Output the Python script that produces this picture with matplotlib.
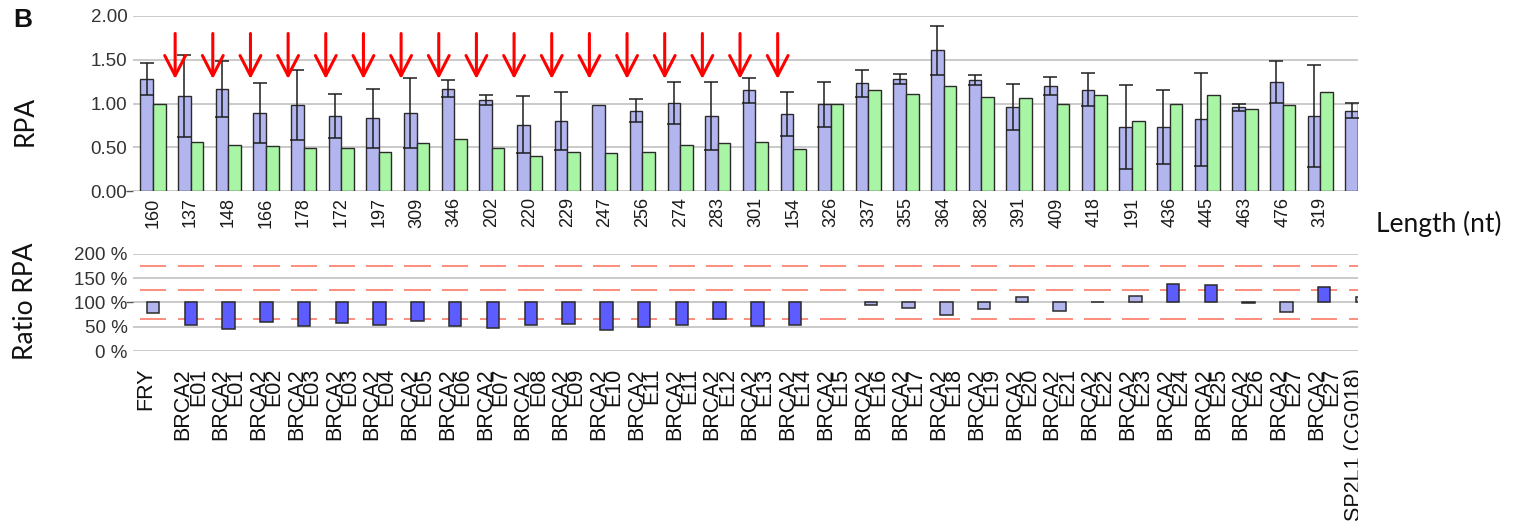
import matplotlib
matplotlib.use("Agg")
import numpy as np
import matplotlib.pyplot as plt
from matplotlib.patches import Rectangle
from matplotlib.transforms import blended_transform_factory

plt.rcParams["font.family"] = ["Liberation Sans", "DejaVu Sans"]

# ---- data -----------------------------------------------------------------
lengths = ["160", "137", "148", "166", "178", "172", "197", "309", "346", "202",
           "220", "229", "247", "256", "274", "283", "301", "154", "326", "337",
           "355", "364", "382", "391", "409", "418", "191", "436", "445", "463",
           "476", "319", ""]
genes = ["FRY"] + ["BRCA2"] * 31 + ["SP2L1 (CG018)"]
exons = ["", "E01", "E01", "E02", "E03", "E03", "E04", "E05", "E06", "E07",
         "E08", "E09", "E10", "E11", "E11", "E12", "E13", "E14", "E15", "E16",
         "E17", "E18", "E19", "E20", "E21", "E22", "E23", "E24", "E25", "E26",
         "E27", "E27", ""]

# mean RPA of the reference samples (blue) with its spread
reference_rpa = [1.28, 1.09, 1.17, 0.89, 0.98, 0.86, 0.83, 0.89, 1.17, 1.04,
                 0.76, 0.80, 0.98, 0.92, 1.01, 0.86, 1.15, 0.88, 0.99, 1.23,
                 1.28, 1.61, 1.27, 0.96, 1.20, 1.16, 0.73, 0.73, 0.82, 0.96,
                 1.25, 0.86, 0.92]
reference_err = [0.18, 0.47, 0.32, 0.34, 0.40, 0.25, 0.34, 0.40, 0.10, 0.06,
                 0.33, 0.33, np.nan, 0.13, 0.24, 0.39, 0.14, 0.25, 0.26, 0.15,
                 0.06, 0.28, 0.06, 0.26, 0.10, 0.19, 0.48, 0.42, 0.53, 0.04,
                 0.24, 0.58, 0.09]
# RPA of the tested sample (green)
sample_rpa = [1.00, 0.56, 0.53, 0.52, 0.49, 0.49, 0.45, 0.55, 0.59, 0.49,
              0.40, 0.45, 0.43, 0.45, 0.53, 0.55, 0.56, 0.48, 0.99, 1.16,
              1.11, 1.20, 1.07, 1.06, 1.00, 1.10, 0.80, 0.99, 1.10, 0.94,
              0.98, 1.13, 1.00]

# sample / reference ratio in percent, and whether it is flagged
ratio_pct = [78, 54, 46, 60, 52, 57, 54, 62, 52, 48,
             54, 56, 43, 49, 54, 65, 52, 54, np.nan, 94,
             88, 75, 86, 110, 83, 101, 113, 138, 135, 99,
             80, 131, 110]
flagged = [False] + [True] * 17 + [False] * 9 + [True, True, False, False, True, False]

thresholds = [65, 125, 175]

# ---- styling ----------------------------------------------------------------
LIGHT_BLUE = "#b3b5ee"
DARK_BLUE = "#5c5cff"
GREEN = "#a9f5a6"
EDGE = "#2b2b2b"
GRID = "#c6c6c6"
DASH = "#ff7a66"
TICK_COLOR = "#333333"

W, H = 1513, 522
fig = plt.figure(figsize=(W / 100, H / 100), dpi=100)

left, right = 133 / W, 1358 / W
ax1 = fig.add_axes([left, 1 - 191 / H, right - left, (191 - 16) / H])
ax2 = fig.add_axes([left, 1 - 351 / H, right - left, (351 - 253.7) / H])

n = len(lengths)
x = np.arange(n)
xlim = (-0.529, 31.895)

# ---- upper panel: RPA -------------------------------------------------------
bw = 0.335
ax1.bar(x - bw / 2, reference_rpa, bw, color=LIGHT_BLUE, edgecolor=EDGE,
        linewidth=1.0, zorder=2)
ax1.bar(x + bw / 2, sample_rpa, bw, color=GREEN, edgecolor=EDGE,
        linewidth=1.0, zorder=2)
ax1.errorbar(x - bw / 2, reference_rpa, yerr=reference_err, fmt="none",
             ecolor="#1e1e1e", elinewidth=1.1, capsize=4.8, capthick=1.1, zorder=3)

for i in x:
    if flagged[i] and ratio_pct[i] < 100:
        ax1.annotate("", xy=(i - 0.41, 1.28), xytext=(i - 0.41, 1.80),
                     arrowprops=dict(arrowstyle="->,head_length=1.45,head_width=0.75",
                                     color="#ff0000", lw=2.2, shrinkA=0, shrinkB=0,
                                     mutation_scale=10),
                     zorder=4)

ax1.set_xlim(*xlim)
ax1.set_ylim(0, 2.0)
ax1.set_yticks([0, 0.5, 1.0, 1.5, 2.0])
ax1.set_yticklabels([f"{v:.2f}" for v in [0, 0.5, 1.0, 1.5, 2.0]])
ax1.set_xticks(x)
ax1.set_xticklabels(lengths, rotation=90)
ax1.grid(axis="y", color=GRID, linewidth=1.3)
ax1.set_axisbelow(True)
ax1.tick_params(axis="y", length=0, pad=4, labelsize=13.5, labelcolor=TICK_COLOR)
ax1.tick_params(axis="x", length=0, pad=4.5, labelsize=13, labelcolor="#1a1a1a")
ax1.yaxis.remove_overlapping_locs = False
ax1.set_yticks([0], minor=True)
ax1.tick_params(axis="y", which="minor", length=5, width=1.0, color="#555555")
for s in ax1.spines.values():
    s.set_visible(False)

# ---- lower panel: ratio -----------------------------------------------------
for t in thresholds:
    ax2.hlines([t] * n, x - 0.35, x + 0.35, color=DASH, linewidth=1.2, zorder=1)

ratio = np.array(ratio_pct, dtype=float)
ax2.bar(x, ratio - 100, 0.33, bottom=100,
        color=[DARK_BLUE if f else LIGHT_BLUE for f in flagged],
        edgecolor=EDGE, linewidth=1.1, zorder=2)

ax2.set_xlim(*xlim)
ax2.set_ylim(0, 200)
ax2.set_yticks([0, 50, 100, 150, 200])
ax2.set_yticklabels([f"{v} %" for v in [0, 50, 100, 150, 200]])
ax2.set_xticks([])
ax2.grid(axis="y", color=GRID, linewidth=1.3)
ax2.set_axisbelow(True)
ax2.tick_params(axis="y", length=0, pad=4, labelsize=13.5, labelcolor=TICK_COLOR)
ax2.yaxis.remove_overlapping_locs = False
ax2.set_yticks([100], minor=True)
ax2.tick_params(axis="y", which="minor", length=5, width=1.0, color="#555555")
for s in ax2.spines.values():
    s.set_visible(False)

# category labels under the ratio panel
label_tf = blended_transform_factory(ax2.transData, fig.transFigure)
label_y = 1 - 368 / H
for i in x:
    parts = [(genes[i], -0.2)]
    if exons[i]:
        parts.append((exons[i], 0.2))
    for txt, dx in parts:
        fig.text(i + dx, label_y, txt, transform=label_tf, rotation=90,
                 ha="center", va="top", fontsize=15.5, color="#111111", zorder=3)

# labels running past the plot's right edge are cut off there
fig.add_artist(Rectangle((right, 0), 1 - right, 1 - 300 / H,
                         transform=fig.transFigure, facecolor="white",
                         edgecolor="none", zorder=10))

# ---- titles -----------------------------------------------------------------
fig.text(25.5 / W, 1 - 121 / H, "RPA", rotation=90, ha="center", va="center",
         fontsize=19, family="Lato", color="#111111")
fig.text(25.5 / W, 1 - 301 / H, "Ratio RPA", rotation=90, ha="center", va="center",
         fontsize=19, family="Lato", color="#111111")
fig.text(1376 / W, 1 - 232 / H, "Length (nt)", ha="left", va="baseline",
         fontsize=19, family="Lato", color="#111111", zorder=11)
fig.text(13 / W, 1 - 27 / H, "B", ha="left", va="baseline", fontsize=19,
         fontweight="bold", color="#111111")

fig.savefig("out.png", dpi=100)
